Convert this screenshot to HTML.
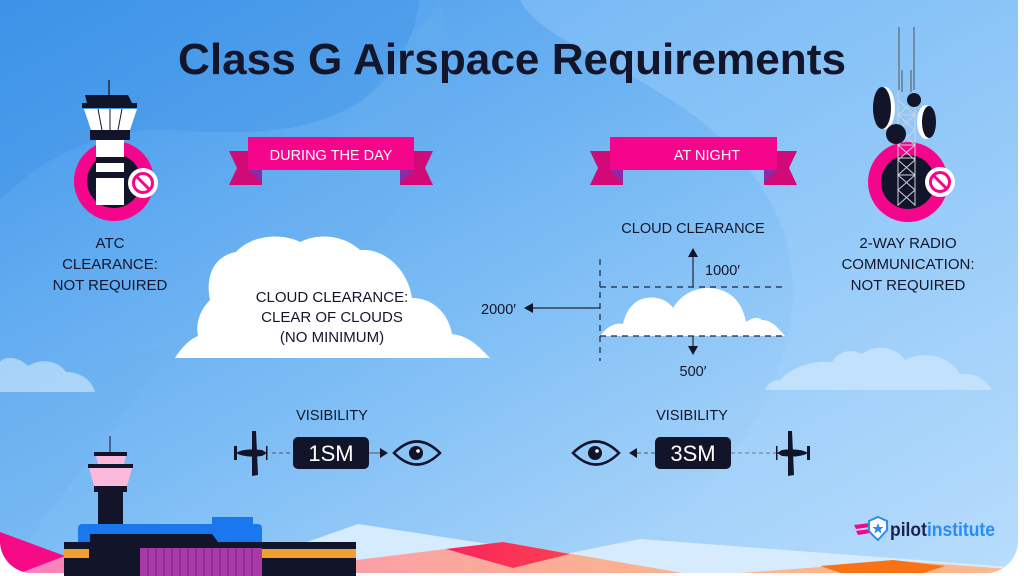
<!DOCTYPE html>
<html><head><meta charset="utf-8"><style>
html,body{margin:0;padding:0;background:#fff;width:1024px;height:576px;overflow:hidden}
svg{display:block}
text{font-family:"Liberation Sans",sans-serif}
</style></head><body>
<svg width="1024" height="576" viewBox="0 0 1024 576" xmlns="http://www.w3.org/2000/svg">
<defs>
<linearGradient id="bg" x1="0" y1="0" x2="1" y2="1">
<stop offset="0" stop-color="#3f95ea"/><stop offset="0.5" stop-color="#7dbdf5"/><stop offset="1" stop-color="#c3e2fc"/>
</linearGradient>
<clipPath id="card"><rect x="0" y="-30" width="1018" height="603" rx="32"/></clipPath>
<linearGradient id="pk" x1="0" x2="1"><stop offset="0" stop-color="#f77fc0"/><stop offset="0.6" stop-color="#fba5a0"/><stop offset="1" stop-color="#fbb58f"/></linearGradient>
<linearGradient id="rd" x1="0" x2="1"><stop offset="0" stop-color="#f9245f"/><stop offset="1" stop-color="#fb4050"/></linearGradient>
</defs>
<g clip-path="url(#card)">
<rect width="1024" height="576" fill="url(#bg)"/>
<path d="M0 0 H420 C400 120 300 140 180 130 C100 125 40 160 0 200Z" fill="#3a8fe6" opacity="0.35"/>
<path d="M440 0 C480 160 380 330 0 380 V576 H0Z" fill="#6aaeea" opacity="0.25"/>
<path d="M520 0 H1024 V576 H620 C800 420 860 250 700 120 C620 60 540 40 520 0Z" fill="#a5d3fb" opacity="0.35"/>
<path d="M0 392 H95 C92 380 80 372 66 372 C58 360 40 358 28 366 C18 356 4 356 0 362Z" fill="#c5e2fb" opacity="0.7"/>
<path d="M765 390 H992 C985 378 972 372 960 374 C950 356 925 350 905 360 C895 346 875 344 862 354 C850 348 838 352 832 362 C812 360 790 368 780 380 C772 380 768 384 765 390Z" fill="#c9e5fc" opacity="0.8"/>
<polygon points="290,548 358,524 560,555 640,539 1024,568 1024,576 290,576" fill="#d6ebfd"/>
<polygon points="0,538 65,556 356,560 503,542 700,576 0,576" fill="url(#pk)"/>
<polygon points="446,549 503,542 570,554 513,568" fill="url(#rd)"/>
<polygon points="0,532 65,556 12,576 0,576" fill="#f70a86"/>
<polygon points="700,576 900,561 1024,570 1024,576" fill="#fbb88f"/>
<polygon points="820,566 893,560 945,566 915,576 850,576" fill="#f97316"/>
</g>

<text x="512" y="74" text-anchor="middle" font-size="44" font-weight="bold" fill="#13162b" textLength="668" lengthAdjust="spacingAndGlyphs">Class G Airspace Requirements</text>

<line x1="109" y1="80" x2="109" y2="95" stroke="#111" stroke-width="1.2"/>
<circle cx="114" cy="181" r="40" fill="#f5058c"/>
<circle cx="114" cy="181" r="27" fill="#12142a"/>
<polygon points="85,95 128,95 132,103 137,103 137,108 82,108 82,103 87,103" fill="#12142a"/>
<polygon points="84,109 137,109 130,130 91,130" fill="#fff"/>
<g stroke="#12142a" stroke-width="1"><line x1="98" y1="109" x2="102" y2="130"/><line x1="110" y1="109" x2="110" y2="130"/><line x1="122" y1="109" x2="118" y2="130"/></g>
<rect x="90" y="130" width="40" height="10" fill="#12142a"/>
<rect x="96" y="140" width="28" height="65" fill="#fff"/>
<rect x="96" y="157" width="28" height="6" fill="#12142a"/>
<rect x="96" y="172" width="28" height="6" fill="#12142a"/>
<circle cx="143" cy="183" r="15" fill="#fff"/>
<circle cx="143" cy="183" r="9.5" fill="none" stroke="#f5058c" stroke-width="3"/>
<line x1="136.5" y1="176.5" x2="149.5" y2="189.5" stroke="#f5058c" stroke-width="3"/>
<g font-size="15" fill="#13162b" text-anchor="middle"><text x="110" y="248">ATC</text><text x="110" y="269">CLEARANCE:</text><text x="110" y="290">NOT REQUIRED</text></g>

<circle cx="908" cy="182" r="40" fill="#f5058c"/>
<circle cx="908" cy="182" r="27" fill="#12142a"/>
<g stroke="#555" stroke-width="1" fill="none">
<line x1="899" y1="27" x2="899" y2="90"/><line x1="914" y1="27" x2="914" y2="90"/>
<line x1="902" y1="70" x2="902" y2="92"/><line x1="911" y1="70" x2="911" y2="92"/>
</g>
<g stroke="#cfd3da" stroke-width="1" fill="none">
<line x1="898" y1="92" x2="898" y2="206"/><line x1="915" y1="92" x2="915" y2="206"/>
<path d="M898 100 L915 115 L898 130 L915 145 L898 160 L915 175 L898 190 L915 205"/>
<path d="M915 100 L898 115 L915 130 L898 145 L915 160 L898 175 L915 190 L898 205"/>
<line x1="898" y1="115" x2="915" y2="115"/><line x1="898" y1="145" x2="915" y2="145"/><line x1="898" y1="175" x2="915" y2="175"/><line x1="898" y1="158" x2="915" y2="158"/>
</g>
<ellipse cx="885" cy="108" rx="10" ry="21" fill="#fff"/>
<ellipse cx="882" cy="108" rx="9" ry="21" fill="#12142a"/>
<ellipse cx="926" cy="122" rx="9" ry="17" fill="#fff"/>
<ellipse cx="929" cy="122" rx="7" ry="16" fill="#12142a"/>
<circle cx="914" cy="100" r="7" fill="#12142a"/>
<circle cx="896" cy="134" r="10" fill="#12142a"/>
<circle cx="940" cy="182" r="15" fill="#fff"/>
<circle cx="940" cy="182" r="9.5" fill="none" stroke="#f5058c" stroke-width="3"/>
<line x1="933.5" y1="175.5" x2="946.5" y2="188.5" stroke="#f5058c" stroke-width="3"/>
<g font-size="15" fill="#13162b" text-anchor="middle"><text x="908" y="248">2-WAY RADIO</text><text x="908" y="269">COMMUNICATION:</text><text x="908" y="290">NOT REQUIRED</text></g>

<g>
<polygon points="229,151 262,151 262,185 229,185 237,168" fill="#d10a78"/>
<polygon points="400,151 433,151 425,168 433,185 400,185" fill="#d10a78"/>
<polygon points="248,170 262,170 262,183" fill="#8a2aa8"/>
<polygon points="414,170 400,170 400,183" fill="#8a2aa8"/>
<rect x="248" y="137" width="166" height="33" fill="#f5058c"/>
<text x="331" y="160" text-anchor="middle" font-size="14.5" fill="#fff">DURING THE DAY</text>
</g>
<g>
<polygon points="590,151 623,151 623,185 590,185 598,168" fill="#d10a78"/>
<polygon points="764,151 797,151 789,168 797,185 764,185" fill="#d10a78"/>
<polygon points="610,170 623,170 623,183" fill="#8a2aa8"/>
<polygon points="777,170 764,170 764,183" fill="#8a2aa8"/>
<rect x="610" y="137" width="167" height="33" fill="#f5058c"/>
<text x="707" y="160" text-anchor="middle" font-size="14.5" fill="#fff">AT NIGHT</text>
</g>

<path d="M175 358 H490 C480 348 470 336 452 334 C448 312 432 298 412 298 C408 270 385 248 360 250 C345 236 320 232 300 242 C280 232 250 236 236 252 C214 256 205 276 210 300 C198 312 196 326 198 336 C188 340 180 350 175 358Z" fill="#fff"/>
<g font-size="15" fill="#13162b" text-anchor="middle"><text x="332" y="302">CLOUD CLEARANCE:</text><text x="332" y="322">CLEAR OF CLOUDS</text><text x="332" y="342">(NO MINIMUM)</text></g>

<text x="693" y="233" text-anchor="middle" font-size="14.5" fill="#13162b">CLOUD CLEARANCE</text>
<path d="M600 336 H785 C778 328 772 320 762 320 C758 316 752 318 746 322 C742 300 728 288 708 288 C693 288 680 296 673 308 C668 300 656 296 646 298 C634 300 626 310 623 324 C614 322 606 328 600 336Z" fill="#fff"/>
<g stroke="#1c2540" stroke-width="1.2" stroke-dasharray="6,5" fill="none">
<line x1="600" y1="259" x2="600" y2="361"/>
<line x1="600" y1="287" x2="787" y2="287"/>
<line x1="600" y1="336" x2="787" y2="336"/>
</g>
<g stroke="#1c2540" stroke-width="1.2"><line x1="693" y1="287" x2="693" y2="256"/><line x1="693" y1="336" x2="693" y2="350"/><line x1="600" y1="308" x2="533" y2="308"/></g>
<polygon points="693,248 688,257 698,257" fill="#12142a"/>
<polygon points="693,355 688,346 698,346" fill="#12142a"/>
<polygon points="524,308 533,303 533,313" fill="#12142a"/>
<g font-size="14.5" fill="#13162b"><text x="705" y="275">1000′</text><text x="693" y="376" text-anchor="middle">500′</text><text x="516" y="314" text-anchor="end">2000′</text></g>

<text x="332" y="420" text-anchor="middle" font-size="14.5" fill="#13162b">VISIBILITY</text>
<g fill="#12142a">
<rect x="234" y="446" width="3" height="14"/>
<path d="M236 453 Q244 448 262 450 L267 453 L262 456 Q244 458 236 453Z"/>
<path d="M252 431 L256 431 L258 475 L252 476Z"/>
<rect x="266" y="446" width="1.5" height="14"/>
</g>
<line x1="272" y1="453" x2="293" y2="453" stroke="#555" stroke-dasharray="4,3"/>
<rect x="293" y="437" width="76" height="32" rx="5" fill="#12142a"/>
<text x="331" y="461" text-anchor="middle" font-size="22" fill="#fff">1SM</text>
<line x1="369" y1="453" x2="380" y2="453" stroke="#555"/>
<polygon points="388,453 380,448 380,458" fill="#12142a"/>
<path d="M394 453 Q417 430 440 453 Q417 476 394 453Z" fill="none" stroke="#12142a" stroke-width="2.5"/>
<circle cx="416" cy="453" r="7" fill="#12142a"/>
<circle cx="418" cy="451" r="1.8" fill="#fff"/>

<text x="692" y="420" text-anchor="middle" font-size="14.5" fill="#13162b">VISIBILITY</text>
<path d="M573 453 Q596 430 619 453 Q596 476 573 453Z" fill="none" stroke="#12142a" stroke-width="2.5"/>
<circle cx="595" cy="453" r="7" fill="#12142a"/>
<circle cx="597" cy="451" r="1.8" fill="#fff"/>
<polygon points="629,453 637,448 637,458" fill="#12142a"/>
<line x1="637" y1="453" x2="655" y2="453" stroke="#555" stroke-dasharray="4,3"/>
<rect x="655" y="437" width="76" height="32" rx="5" fill="#12142a"/>
<text x="693" y="461" text-anchor="middle" font-size="22" fill="#fff">3SM</text>
<line x1="731" y1="453" x2="776" y2="453" stroke="#6a7a90" stroke-dasharray="4,3"/>
<g fill="#12142a">
<rect x="776" y="446" width="1.5" height="14"/>
<path d="M808 453 Q800 448 782 450 L777 453 L782 456 Q800 458 808 453Z"/>
<path d="M788 431 L792 431 L794 475 L788 476Z"/>
<rect x="807" y="446" width="3" height="14"/>
</g>

<line x1="110" y1="436" x2="110" y2="452" stroke="#12142a" stroke-width="1"/>
<rect x="94" y="452" width="33" height="4" fill="#12142a"/>
<polygon points="96,456 126,456 124,464 98,464" fill="#fbb9dc"/>
<rect x="88" y="464" width="45" height="4" fill="#12142a"/>
<polygon points="89,468 132,468 127,486 94,486" fill="#fbb9dc"/>
<rect x="94" y="486" width="33" height="6" fill="#12142a"/>
<rect x="98" y="492" width="25" height="84" fill="#12142a"/>
<rect x="212" y="517" width="41" height="10" fill="#1a78ee"/>
<rect x="78" y="524" width="184" height="22" rx="4" fill="#1a78ee"/>
<polygon points="64,542 356,542 356,576 64,576" fill="#12142a"/>
<polygon points="90,534 123,534 123,542 90,542" fill="#12142a"/>
<polygon points="123,534 212,534 218,542 123,542" fill="#12142a"/>
<rect x="64" y="549" width="25" height="9" fill="#f0a030"/>
<rect x="262" y="549" width="94" height="9" fill="#f0a030"/>
<rect x="140" y="548" width="122" height="28" fill="#a83aa8"/>
<g stroke="#7a1e80" stroke-width="1">
<line x1="148" y1="548" x2="148" y2="576"/><line x1="156" y1="548" x2="156" y2="576"/><line x1="164" y1="548" x2="164" y2="576"/><line x1="172" y1="548" x2="172" y2="576"/><line x1="180" y1="548" x2="180" y2="576"/><line x1="188" y1="548" x2="188" y2="576"/><line x1="196" y1="548" x2="196" y2="576"/><line x1="204" y1="548" x2="204" y2="576"/><line x1="212" y1="548" x2="212" y2="576"/><line x1="220" y1="548" x2="220" y2="576"/><line x1="228" y1="548" x2="228" y2="576"/><line x1="236" y1="548" x2="236" y2="576"/><line x1="244" y1="548" x2="244" y2="576"/><line x1="252" y1="548" x2="252" y2="576"/>
</g>

<g>
<polygon points="854,525 870,523 870,527 856,529" fill="#f5058c"/>
<polygon points="856,531 870,529 870,533 858,535" fill="#f5058c"/>
<path d="M869 521 L878 517 L887 521 L887 530 Q878 540 878 540 Q869 532 869 530Z" fill="#fff" stroke="#2a8cf5" stroke-width="2"/>
<polygon points="878,523 879.5,527 883.5,527 880.5,529.5 881.5,533.5 878,531 874.5,533.5 875.5,529.5 872.5,527 876.5,527" fill="#2a8cf5"/>
<text x="890" y="536" font-size="19" font-weight="bold" fill="#1c2250" textLength="105" lengthAdjust="spacingAndGlyphs">pilot<tspan fill="#2a8cf5">institute</tspan></text>
</g>
</svg>
</body></html>
